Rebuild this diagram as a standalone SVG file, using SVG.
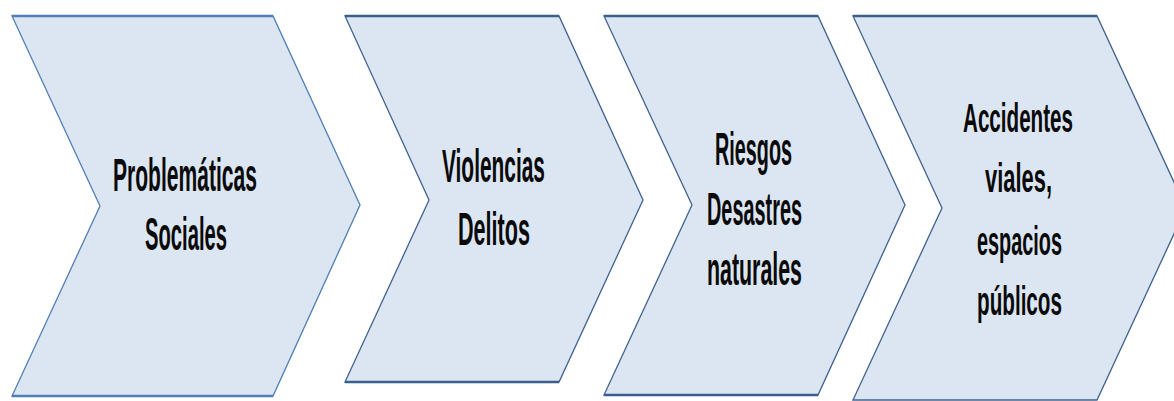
<svg xmlns="http://www.w3.org/2000/svg" width="1174" height="401" viewBox="0 0 1174 401">
  <style>
    .chev { fill: #DCE6F2; stroke: #4F7FB5; stroke-width: 1.3; stroke-linejoin: miter; }
    .chev.dark { stroke: #3F628E; }
    .edge { stroke: #3A5F8C; stroke-width: 2.6; fill: none; }
    .lbl { font-family: "Liberation Sans", Arial, sans-serif; font-weight: bold; font-size: 46px; fill: #0a0a0a; text-anchor: middle; }
    .lbl.sm { font-size: 40px; }
  </style>
  <rect width="1174" height="401" fill="#ffffff"/>
  <g id="connectors"/>
  <g id="n1">
    <polygon class="chev" points="12,16 273,16 360,205 273,396 12,396 100,206"/>
    <line class="edge" x1="12" y1="16" x2="273" y2="16" style="stroke:#4F7FB5"/>
    <line class="edge" x1="12" y1="396" x2="273" y2="396" style="stroke:#4F7FB5"/>
    <text class="lbl" x="185" y="191" textLength="144" lengthAdjust="spacingAndGlyphs">Problemáticas</text>
    <text class="lbl" x="186" y="250" textLength="82" lengthAdjust="spacingAndGlyphs">Sociales</text>
  </g>
  <g id="n2">
    <polygon class="chev dark" points="345,16 559,16 643,200 559,382 345,382 429,200"/>
    <line class="edge" x1="345" y1="16" x2="559" y2="16"/>
    <line class="edge" x1="345" y1="382" x2="559" y2="382"/>
    <text class="lbl" x="493.5" y="182" textLength="103" lengthAdjust="spacingAndGlyphs">Violencias</text>
    <text class="lbl" x="494" y="245" textLength="72" lengthAdjust="spacingAndGlyphs">Delitos</text>
  </g>
  <g id="n3">
    <polygon class="chev dark" points="604,16 818,16 905,205 818,395 604,395 692,205"/>
    <line class="edge" x1="604" y1="16" x2="818" y2="16"/>
    <line class="edge" x1="604" y1="395" x2="818" y2="395"/>
    <text class="lbl" x="753.5" y="165" textLength="77" lengthAdjust="spacingAndGlyphs">Riesgos</text>
    <text class="lbl" x="754.5" y="225" textLength="95" lengthAdjust="spacingAndGlyphs">Desastres</text>
    <text class="lbl" x="754.5" y="285" textLength="95" lengthAdjust="spacingAndGlyphs">naturales</text>
  </g>
  <g id="n4">
    <polygon class="chev dark" points="853,16 1097,16 1186,208 1097,400 853,400 942,208"/>
    <line class="edge" x1="853" y1="16" x2="1097" y2="16"/>
    <text class="lbl sm" x="1018" y="132" textLength="110" lengthAdjust="spacingAndGlyphs">Accidentes</text>
    <text class="lbl sm" x="1018.5" y="192" textLength="67" lengthAdjust="spacingAndGlyphs">viales,</text>
    <text class="lbl sm" x="1019.5" y="255" textLength="85" lengthAdjust="spacingAndGlyphs">espacios</text>
    <text class="lbl sm" x="1019.5" y="315" textLength="85" lengthAdjust="spacingAndGlyphs">públicos</text>
  </g>
</svg>
